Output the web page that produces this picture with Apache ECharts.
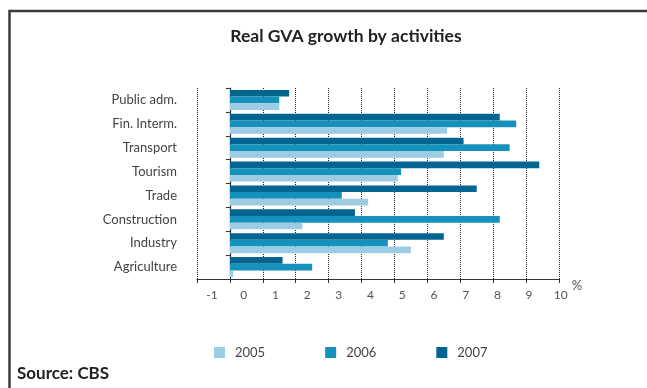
<!DOCTYPE html>
<html>
<head>
<meta charset="utf-8">
<script src="https://cdn.jsdelivr.net/npm/echarts@6/dist/echarts.min.js"></script>
<style>
  html, body { margin: 0; padding: 0; background: #fff; }
  #chart { width: 647px; height: 388px; }
</style>
</head>
<body>
<div id="chart"></div>
<script>
// Activities, listed bottom to top
const activities = ['Agriculture', 'Industry', 'Construction', 'Trade', 'Tourism', 'Transport', 'Fin. Interm.', 'Public adm.'];
const growth2005 = [0.1, 5.5, 2.2, 4.2, 5.1, 6.5, 6.6, 1.5];
const growth2006 = [2.5, 4.8, 8.2, 3.4, 5.2, 8.5, 8.7, 1.5];
const growth2007 = [1.6, 6.5, 3.8, 7.5, 9.4, 7.1, 8.2, 1.8];
const yearNames = ['2005', '2006', '2007'];
const axisMin = -1, axisMax = 10, axisStep = 1;

const colors = { '2005': '#9dcde5', '2006': '#1592bb', '2007': '#01658f' };
const font = 'Lato, "Open Sans", sans-serif';

// Tick labels sit a little to the right of their ticks, drifting less toward the end
const richShift = {};
for (let v = axisMin; v <= axisMax; v++) {
  const shift = 15 - 1.2 * (v - axisMin);
  richShift['p' + (v - axisMin)] = { padding: [0, 0, 0, 2 * shift], fontSize: 12, color: '#555', fontFamily: font };
}

// Within each activity the latest year is drawn on top, so series go newest first
const yearSeries = [
  { name: yearNames[2], data: growth2007 },
  { name: yearNames[1], data: growth2006 },
  { name: yearNames[0], data: growth2005 }
].map(s => ({
  name: s.name, type: 'bar', data: s.data,
  barGap: 0, barCategoryGap: '16%',
  itemStyle: { color: colors[s.name] }
}));

const chart = echarts.init(document.getElementById('chart'), null, { renderer: 'canvas' });
chart.setOption({
  animation: false,
  backgroundColor: '#fff',
  title: [
    {
      text: 'Real GVA growth by activities',
      left: 341, top: 22, textAlign: 'center',
      textStyle: { fontFamily: font, fontSize: 17.5, fontWeight: 'bold', color: '#222' }
    },
    {
      text: 'Source: CBS',
      left: 12, top: 360,
      textStyle: { fontFamily: font, fontSize: 17, fontWeight: 'bold', color: '#222' }
    }
  ],
  legend: {
    data: yearNames,
    left: 209, top: 341,
    itemWidth: 11, itemHeight: 11, itemGap: 60,
    icon: 'rect',
    textStyle: { fontFamily: font, fontSize: 13, color: '#444', padding: [0, 0, 0, 5] }
  },
  grid: { left: 197, right: 88, top: 88, bottom: 109, containLabel: false },
  xAxis: {
    type: 'value',
    min: axisMin, max: axisMax, interval: axisStep,
    name: '%', nameLocation: 'end', nameGap: 10,
    nameTextStyle: { fontFamily: font, fontSize: 13, color: '#555', verticalAlign: 'top', padding: [0, 0, 0, 0] },
    axisLine: { show: true, lineStyle: { color: '#333', width: 1.2 } },
    axisTick: { show: true, length: 4, lineStyle: { color: '#333' } },
    axisLabel: {
      margin: 10,
      formatter: v => '{p' + (v - axisMin) + '|' + v + '}',
      rich: richShift
    },
    splitLine: { show: true, lineStyle: { type: 'dotted', color: '#222', width: 1 } }
  },
  yAxis: {
    type: 'category',
    data: activities,
    axisLine: { show: true, onZero: true, lineStyle: { color: '#333', width: 1.2 } },
    axisTick: { show: true, length: 4, lineStyle: { color: '#333' } },
    axisLabel: { margin: 20, fontFamily: font, fontSize: 13, color: '#444' },
    splitLine: { show: false }
  },
  series: yearSeries,
  graphic: [
    {
      type: 'polyline',
      shape: { points: [[9.5, 388], [9.5, 11], [647, 11]] },
      style: { stroke: '#3a3a3a', lineWidth: 2.5, fill: null },
      silent: true
    }
  ]
});
</script>
</body>
</html>
